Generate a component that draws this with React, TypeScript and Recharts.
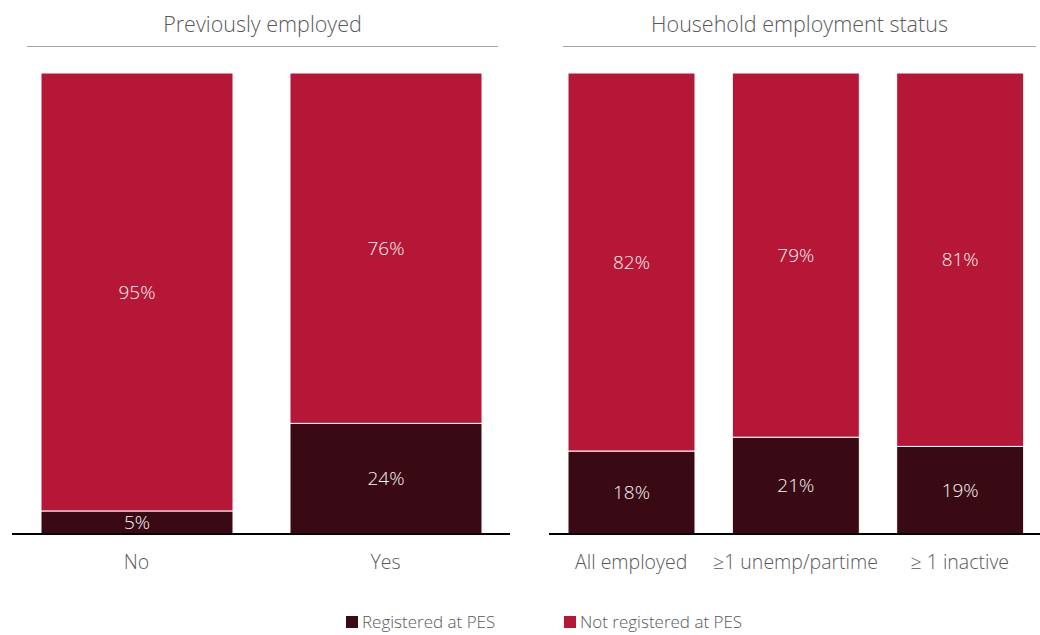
import React from "react";
import { BarChart, Bar, XAxis, YAxis, LabelList } from "recharts";

// Left panel: previously employed
const prevCategories = ["No", "Yes"];
const prevRegistered = [5, 24];
const prevNotRegistered = [95, 76];

// Right panel: household employment status
const householdCategories = ["All employed", "≥1 unemp/partime", "≥ 1 inactive"];
const householdRegistered = [18, 21, 19];
const householdNotRegistered = [82, 79, 81];

const DARK = "#3A0A14";
const RED = "#B71736";
const TEXT = "#595959";
const FONT = "'Open Sans', 'Noto Sans', sans-serif";

const buildRows = (cats: string[], reg: number[], notReg: number[]) =>
  cats.map((c, i) => ({ name: c, registered: reg[i], notRegistered: notReg[i] }));

const pct = (v: any) => `${v}%`;

function Panel({ rows, width, barSize }: { rows: any[]; width: number; barSize: number }) {
  return (
    <BarChart width={width} height={600} data={rows} margin={{ top: 73, right: 0, bottom: 0, left: 0 }}>
      <YAxis hide domain={[0, 100]} />
      <XAxis
        dataKey="name"
        height={66}
        tickLine={false}
        tickMargin={15}
        axisLine={{ stroke: "#000", strokeWidth: 2 }}
        tick={{ fill: TEXT, fontSize: 19.5, fontFamily: FONT, fontWeight: 300 }}
        interval={0}
      />
      <Bar dataKey="registered" stackId="a" fill={DARK} stroke="#fff" strokeWidth={1} barSize={barSize} isAnimationActive={false}>
        <LabelList dataKey="registered" position="center" formatter={pct} fill="#f5f5f5" fontSize={19} fontFamily={FONT} fontWeight={300} />
      </Bar>
      <Bar dataKey="notRegistered" stackId="a" fill={RED} stroke="#fff" strokeWidth={1} barSize={barSize} isAnimationActive={false}>
        <LabelList dataKey="notRegistered" position="center" formatter={pct} fill="#f5f5f5" fontSize={19} fontFamily={FONT} fontWeight={300} />
      </Bar>
    </BarChart>
  );
}

function Title({ text, left, width }: { text: string; left: number; width: number }) {
  return (
    <div
      style={{
        position: "absolute",
        left,
        top: 8,
        width,
        height: 38,
        borderBottom: "1.5px solid #a6a6a6",
        textAlign: "center",
        fontSize: 21.5,
        fontWeight: 300,
        color: TEXT,
        fontFamily: FONT,
        lineHeight: "32px",
      }}
    >
      {text}
    </div>
  );
}

const legendItems = [
  { label: "Registered at PES", color: DARK, left: 346 },
  { label: "Not registered at PES", color: RED, left: 564 },
];

export default function App() {
  const prevRows = buildRows(prevCategories, prevRegistered, prevNotRegistered);
  const householdRows = buildRows(householdCategories, householdRegistered, householdNotRegistered);
  return (
    <div style={{ position: "absolute", left: 0, top: 0, width: 1040, height: 635, background: "#fff", overflow: "hidden" }}>
      <Title text="Previously employed" left={27} width={471} />
      <Title text="Household employment status" left={563} width={473} />
      <div style={{ position: "absolute", left: 12, top: 0 }}>
        <Panel rows={prevRows} width={498} barSize={192} />
      </div>
      <div style={{ position: "absolute", left: 549, top: 0 }}>
        <Panel rows={householdRows} width={493} barSize={127} />
      </div>
      {legendItems.map((it) => (
        <div
          key={it.label}
          style={{
            position: "absolute",
            left: it.left,
            top: 612,
            height: 20,
            display: "flex",
            alignItems: "center",
            gap: 4,
            fontFamily: FONT,
            fontWeight: 300,
            fontSize: 17,
            lineHeight: "20px",
            color: TEXT,
            whiteSpace: "nowrap",
          }}
        >
          <span style={{ width: 12, height: 12, background: it.color, display: "inline-block" }} />
          <span>{it.label}</span>
        </div>
      ))}
    </div>
  );
}
